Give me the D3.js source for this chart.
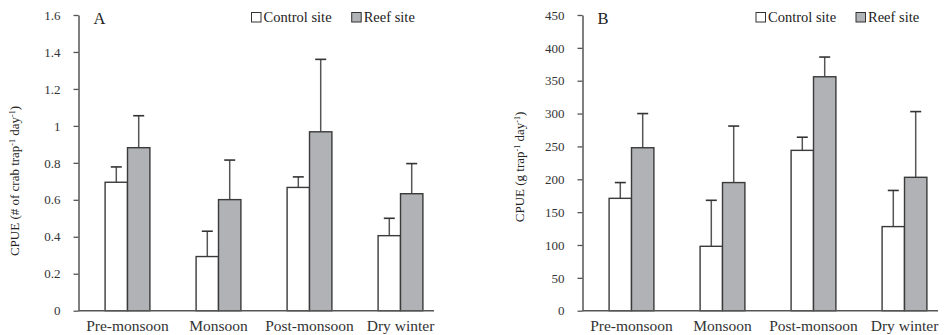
<!DOCTYPE html>
<html><head><meta charset="utf-8">
<script src="https://cdn.jsdelivr.net/npm/d3@7"></script>
<style>
body{margin:0;background:#fff;}
svg{display:block;font-family:"Liberation Serif","Times New Roman",serif;}
</style></head>
<body><svg id="c" width="949" height="335"></svg>
<script>
const categories = ["Pre-monsoon","Monsoon","Post-monsoon","Dry winter"];
const seriesNames = ["Control site","Reef site"];
// Panel A: CPUE (# of crab trap-1 day-1)
const controlA = [0.695, 0.293, 0.667, 0.406];
const controlAErr = [0.083, 0.137, 0.057, 0.094];
const reefA = [0.882, 0.601, 0.968, 0.633];
const reefAErr = [0.173, 0.214, 0.392, 0.163];
const ticksA = [0, 0.2, 0.4, 0.6, 0.8, 1, 1.2, 1.4, 1.6];
// Panel B: CPUE (g trap-1 day-1)
const controlB = [171, 98, 244, 128];
const controlBErr = [24, 70, 20, 55];
const reefB = [248, 195, 356, 203];
const reefBErr = [52, 86, 30, 100];
const ticksB = [0, 50, 100, 150, 200, 250, 300, 350, 400, 450];

const svg = d3.select("#c");
const fills = ["#ffffff", "#b1b2b5"];
const stroke = "#3a3a3a";
const FONT = "'Liberation Serif', serif";

function panel(cfg){
  const g = svg.append("g").attr("transform", `translate(${cfg.ox},0)`);
  const y = d3.scaleLinear().domain([0, cfg.ymax]).range([310.7, 15]);
  const x = d3.scaleBand().domain(categories).range([82, 446]).paddingInner(0);
  const barW = 22.4;
  const axX = 78.5, axEnd = 434;

  const series = [cfg.c, cfg.r];
  const errs = [cfg.ce, cfg.re];
  series.forEach((vals, si) => {
    const xs = c => x(c) + x.bandwidth()/2 + (si === 0 ? -barW : 0);
    g.selectAll(null).data(categories).enter().append("line")
      .attr("x1", c => xs(c) + barW/2).attr("x2", c => xs(c) + barW/2)
      .attr("y1", (c,i) => y(vals[i])).attr("y2", (c,i) => y(vals[i] + errs[si][i]))
      .attr("stroke", "#555").attr("stroke-width", 1.5);
    g.selectAll(null).data(categories).enter().append("line")
      .attr("x1", c => xs(c) + barW/2 - 5.5).attr("x2", c => xs(c) + barW/2 + 5.5)
      .attr("y1", (c,i) => y(vals[i] + errs[si][i])).attr("y2", (c,i) => y(vals[i] + errs[si][i]))
      .attr("stroke", "#333").attr("stroke-width", 1.6);
    g.selectAll(null).data(categories).enter().append("rect")
      .attr("x", c => xs(c)).attr("width", barW)
      .attr("y", (c,i) => y(vals[i])).attr("height", (c,i) => y(0) - y(vals[i]))
      .attr("fill", fills[si]).attr("stroke", stroke).attr("stroke-width", 1.4);
  });

  const ya = g.append("g").attr("transform", `translate(${axX},0)`)
    .call(d3.axisLeft(y).tickValues(cfg.ticks).tickSize(5).tickSizeOuter(0).tickPadding(13).tickFormat(d3.format("")));
  ya.attr("font-family", FONT);
  ya.select(".domain").attr("stroke", "#555").attr("stroke-width", 1.5);
  ya.selectAll(".tick line").attr("stroke", "#555").attr("stroke-width", 1.3);
  ya.selectAll("text").attr("font-family", FONT).attr("font-size", 13).attr("fill", "#333");

  g.append("line").attr("x1", axX).attr("x2", axEnd).attr("y1", y(0)).attr("y2", y(0))
    .attr("stroke", "#555").attr("stroke-width", 1.5);
  const xa = g.append("g").attr("transform", `translate(0,${y(0)})`)
    .call(d3.axisBottom(x).tickSize(0).tickPadding(9));
  xa.attr("font-family", FONT);
  xa.select(".domain").remove();
  xa.selectAll("text").attr("font-family", FONT).attr("font-size", 15.5).attr("fill", "#333");

  g.append("text").attr("x", 93.5).attr("y", 23.5).attr("font-family", FONT).attr("font-size", 16.5).attr("fill", "#222").text(cfg.letter);

  const lg = [{x: cfg.lx0, i: 0}, {x: cfg.lx1, i: 1}];
  lg.forEach(l => {
    g.append("rect").attr("x", l.x).attr("y", 12.5).attr("width", 9.5).attr("height", 9.5)
      .attr("fill", fills[l.i]).attr("stroke", "#333").attr("stroke-width", 1);
    g.append("text").attr("x", l.x + 12).attr("y", 21.5).attr("font-family", FONT).attr("font-size", 14.5).attr("fill", "#222")
      .text(seriesNames[l.i]);
  });

  const t = g.append("text").attr("transform", `translate(${cfg.tx},${cfg.ty}) rotate(-90)`)
    .attr("text-anchor", "middle").attr("font-family", FONT).attr("font-size", 13).attr("fill", "#222");
  cfg.title.forEach(p => {
    t.append("tspan").attr("baseline-shift", p.sup ? "super" : null)
      .attr("font-size", p.sup ? 8 : null).text(p.t);
  });
}

panel({ox: 0, ymax: 1.6, ticks: ticksA, c: controlA, ce: controlAErr, r: reefA, re: reefAErr,
  letter: "A", lx0: 251.5, lx1: 351.7, tx: 19, ty: 181,
  title: [{t:"CPUE (# of crab trap"},{t:"-1",sup:true},{t:" day"},{t:"-1",sup:true},{t:")"}]});
panel({ox: 504, ymax: 450, ticks: ticksB, c: controlB, ce: controlBErr, r: reefB, re: reefBErr,
  letter: "B", lx0: 252, lx1: 352, tx: 19.5, ty: 167,
  title: [{t:"CPUE (g trap"},{t:"-1",sup:true},{t:" day"},{t:"-1",sup:true},{t:")"}]});
</script></body></html>
